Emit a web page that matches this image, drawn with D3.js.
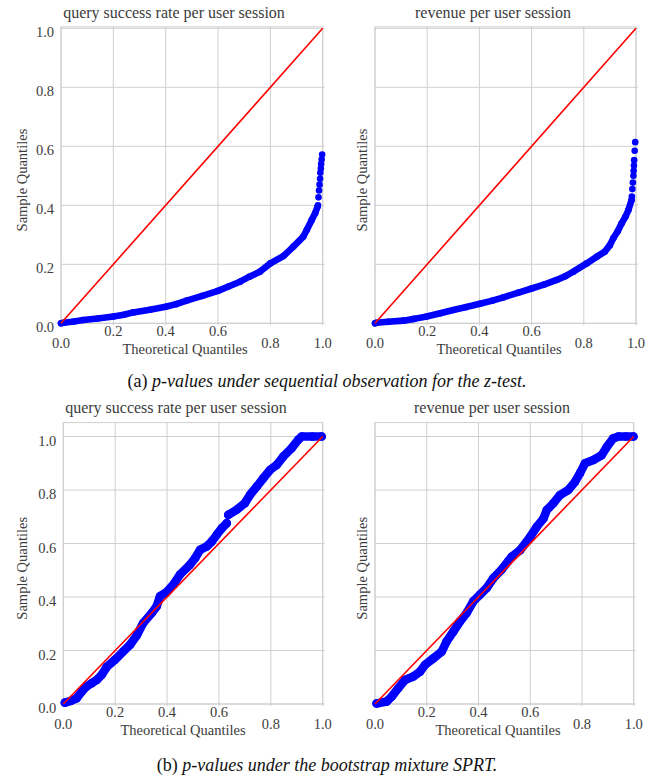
<!DOCTYPE html>
<html>
<head>
<meta charset="utf-8">
<script src="https://cdn.jsdelivr.net/npm/d3@7"></script>
<style>
  html, body { margin: 0; padding: 0; background: #fff; }
  svg { display: block; }
</style>
</head>
<body>
<svg id="chart" width="654" height="779"></svg>
<script>
// ---------------- DATA ----------------
const panelTitles = ["query success rate per user session", "revenue per user session"];
const captionA = ["(a) ", "p-values under sequential observation for the z-test."];
const captionB = ["(b) ", "p-values under the bootstrap mixture SPRT."];
const axisTicks = [0.0, 0.2, 0.4, 0.6, 0.8, 1.0];
const tickLabels = ["0.0", "0.2", "0.4", "0.6", "0.8", "1.0"];
const xLabel = "Theoretical Quantiles";
const yLabel = "Sample Quantiles";
const refLine = [0, 1];

// (a) z-test, query success rate
const zQsrX = [0.0, 0.01, 0.05, 0.085, 0.14, 0.2, 0.24, 0.276, 0.34, 0.4, 0.44, 0.48, 0.54, 0.6, 0.64, 0.684, 0.72, 0.76, 0.8, 0.85, 0.888, 0.926, 0.939, 0.958, 0.971, 0.98];
const zQsrY = [0.0, 0.002, 0.006, 0.011, 0.016, 0.023, 0.029, 0.037, 0.046, 0.056, 0.065, 0.077, 0.093, 0.11, 0.125, 0.141, 0.158, 0.175, 0.203, 0.228, 0.26, 0.294, 0.316, 0.35, 0.373, 0.395];
const zQsrTailX = [0.982, 0.984, 0.986, 0.988, 0.99, 0.991, 0.993, 0.994, 0.996, 0.998];
const zQsrTailY = [0.40, 0.427, 0.45, 0.47, 0.49, 0.51, 0.525, 0.54, 0.555, 0.572];

// (a) z-test, revenue
const zRevX = [0.0, 0.006, 0.05, 0.109, 0.15, 0.198, 0.25, 0.3, 0.35, 0.402, 0.45, 0.492, 0.55, 0.6, 0.65, 0.696, 0.73, 0.76, 0.811, 0.85, 0.881, 0.9, 0.913, 0.93, 0.945, 0.96, 0.971, 0.983];
const zRevY = [0.0, 0.002, 0.005, 0.009, 0.015, 0.023, 0.034, 0.045, 0.055, 0.066, 0.077, 0.088, 0.104, 0.118, 0.132, 0.147, 0.16, 0.175, 0.203, 0.226, 0.243, 0.265, 0.288, 0.312, 0.339, 0.362, 0.384, 0.418];
const zRevTailX = [0.984, 0.986, 0.988, 0.99, 0.991, 0.992, 0.993, 0.995, 0.997];
const zRevTailY = [0.43, 0.455, 0.477, 0.50, 0.517, 0.535, 0.553, 0.585, 0.614];

// (b) bootstrap mixture SPRT, query success rate (null = gap in the run)
const bQsrX = [0.006, 0.03, 0.051, 0.071, 0.09, 0.11, 0.129, 0.148, 0.167, 0.199, 0.231, 0.257, 0.283, 0.308, 0.341, 0.36, 0.373, 0.398, 0.424, 0.45, 0.488, 0.508, 0.527, 0.553, 0.572, 0.591, 0.611, 0.63, null, 0.636, 0.668, 0.7, 0.72, 0.746, 0.771, 0.797, 0.823, 0.848, 0.88, 0.906, 0.919, 0.96, 0.996];
const bQsrY = [0.005, 0.012, 0.021, 0.046, 0.066, 0.078, 0.09, 0.109, 0.138, 0.165, 0.196, 0.221, 0.256, 0.303, 0.34, 0.365, 0.403, 0.418, 0.446, 0.484, 0.52, 0.545, 0.576, 0.589, 0.607, 0.632, 0.657, 0.676, null, 0.707, 0.726, 0.751, 0.782, 0.813, 0.844, 0.875, 0.894, 0.925, 0.956, 0.988, 1.0, 1.0, 1.0];

// (b) bootstrap mixture SPRT, revenue
const bRevX = [0.006, 0.045, 0.064, 0.09, 0.116, 0.148, 0.174, 0.193, 0.226, 0.258, 0.277, 0.303, 0.329, 0.354, 0.38, 0.406, 0.432, 0.458, 0.49, 0.515, 0.528, 0.561, 0.6, 0.625, 0.651, 0.664, 0.689, 0.715, 0.747, 0.773, 0.792, 0.812, 0.844, 0.876, 0.896, 0.921, 0.941, 0.97, 0.999];
const bRevY = [0.002, 0.009, 0.027, 0.059, 0.09, 0.103, 0.121, 0.146, 0.171, 0.196, 0.234, 0.271, 0.309, 0.34, 0.384, 0.409, 0.434, 0.471, 0.503, 0.534, 0.55, 0.575, 0.625, 0.662, 0.693, 0.725, 0.75, 0.781, 0.8, 0.83, 0.862, 0.9, 0.912, 0.93, 0.961, 0.993, 1.0, 1.0, 1.0];

// ---------------- LAYOUT ----------------
const svg = d3.select("#chart");
const FONT = "'Liberation Serif', 'Times New Roman', serif";
const TXT = "#3c3c3c";
const GRID = "#cfcfcf";

const panels = [
  { title: panelTitles[0], xs: zQsrX, ys: zQsrY, tx: zQsrTailX, ty: zQsrTailY,
    x0: 61, x1: 322.7, y0: 323.3, y1: 28.3, yMax: 1.005, r: 3.3, yTicks: true,
    titleX: 174, titleY: 18, xlabX: 185, ylabX: 26.5 },
  { title: panelTitles[1], xs: zRevX, ys: zRevY, tx: zRevTailX, ty: zRevTailY,
    x0: 375, x1: 636, y0: 323.3, y1: 28.3, yMax: 1.005, r: 3.3, yTicks: false,
    titleX: 493, titleY: 18, xlabX: 499, ylabX: 366.5 },
  { title: panelTitles[0], xs: bQsrX, ys: bQsrY, tx: [], ty: [],
    x0: 63.3, x1: 322.7, y0: 704, y1: 436.5, yMax: 1.052, r: 4.3, yTicks: true,
    titleX: 176, titleY: 413, xlabX: 183, ylabX: 26.5 },
  { title: panelTitles[1], xs: bRevX, ys: bRevY, tx: [], ty: [],
    x0: 375, x1: 633.7, y0: 704, y1: 436.5, yMax: 1.052, r: 4.3, yTicks: false,
    titleX: 492, titleY: 413, xlabX: 498, ylabX: 366.5 }
];

panels.forEach(p => {
  const x = d3.scaleLinear().domain([0, 1]).range([p.x0, p.x1]);
  const y = d3.scaleLinear().domain([0, 1]).range([p.y0, p.y1]);
  const g = svg.append("g");

  const top = y(p.yMax), bottom = y(0), left = x(0), right = x(1);

  // grid
  g.selectAll(".gx").data(axisTicks).enter().append("line")
    .attr("x1", d => x(d)).attr("x2", d => x(d))
    .attr("y1", top).attr("y2", bottom + 2)
    .attr("stroke", GRID).attr("stroke-width", 1);
  g.selectAll(".gy").data(axisTicks).enter().append("line")
    .attr("x1", left).attr("x2", right + 2)
    .attr("y1", d => y(d)).attr("y2", d => y(d))
    .attr("stroke", GRID).attr("stroke-width", 1);
  g.append("rect")
    .attr("x", left).attr("y", top)
    .attr("width", right - left).attr("height", bottom - top)
    .attr("fill", "none").attr("stroke", GRID).attr("stroke-width", 1);

  // data band
  const pts = p.xs.map((v, i) => [v, p.ys[i]]);
  const line = d3.line()
    .defined(d => d[0] !== null && d[1] !== null)
    .x(d => x(d[0])).y(d => y(d[1]));
  g.append("path").datum(pts)
    .attr("d", line)
    .attr("fill", "none").attr("stroke", "#0000ff")
    .attr("stroke-width", p.r * 2)
    .attr("stroke-linejoin", "round").attr("stroke-linecap", "round");
  const allDots = pts.filter(d => d[0] !== null)
    .concat(p.tx.map((v, i) => [v, p.ty[i]]));
  g.selectAll(".dot").data(allDots).enter().append("circle")
    .attr("cx", d => x(d[0])).attr("cy", d => y(d[1]))
    .attr("r", p.r).attr("fill", "#0000ff");

  // reference line
  g.append("line")
    .attr("x1", x(refLine[0])).attr("y1", y(refLine[0]))
    .attr("x2", x(refLine[1])).attr("y2", y(refLine[1]))
    .attr("stroke", "#ff0000").attr("stroke-width", 1.6);

  // y tick labels
  if (p.yTicks) {
    g.selectAll(".yt").data(axisTicks).enter().append("text")
      .attr("x", left - 7).attr("y", d => y(d) + 9)
      .attr("text-anchor", "end")
      .attr("font-family", FONT).attr("font-size", 14.5).attr("fill", TXT)
      .text((d, i) => tickLabels[i]);
  }
  // x tick labels (alternating rows as in the original)
  const lowRow = [true, false, false, false, true, true];
  g.selectAll(".xt").data(axisTicks).enter().append("text")
    .attr("x", d => x(d))
    .attr("y", (d, i) => bottom + (lowRow[i] ? 25 : 13))
    .attr("text-anchor", "middle")
    .attr("font-family", FONT).attr("font-size", 14.5).attr("fill", TXT)
    .text((d, i) => tickLabels[i]);

  // axis labels
  g.append("text")
    .attr("x", p.xlabX).attr("y", bottom + 31)
    .attr("text-anchor", "middle")
    .attr("font-family", FONT).attr("font-size", 14.5).attr("fill", TXT)
    .text(xLabel);
  const cy = (top + bottom) / 2 + 5;
  g.append("text")
    .attr("transform", `translate(${p.ylabX},${cy}) rotate(-90)`)
    .attr("text-anchor", "middle")
    .attr("font-family", FONT).attr("font-size", 14.5).attr("fill", TXT)
    .text(yLabel);

  // title
  g.append("text")
    .attr("x", p.titleX).attr("y", p.titleY)
    .attr("text-anchor", "middle")
    .attr("font-family", FONT).attr("font-size", 16).attr("fill", TXT)
    .text(p.title);
});

// captions
function caption(parts, yPos) {
  const t = svg.append("text")
    .attr("x", 327).attr("y", yPos)
    .attr("text-anchor", "middle")
    .attr("font-family", FONT).attr("font-size", 18).attr("fill", "#111");
  t.append("tspan").text(parts[0]);
  t.append("tspan").attr("font-style", "italic").text(parts[1]);
}
caption(captionA, 387);
caption(captionB, 771);
</script>
</body>
</html>
